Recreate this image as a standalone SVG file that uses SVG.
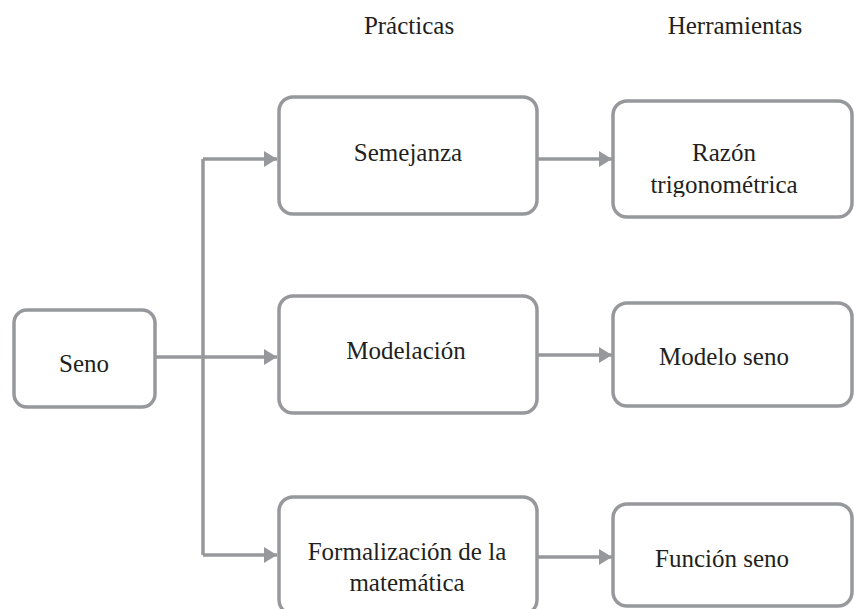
<svg xmlns="http://www.w3.org/2000/svg" width="854" height="609" viewBox="0 0 854 609">
<style>
.box{fill:#ffffff;stroke:#97989b;stroke-width:3.5}
.ln{fill:none;stroke:#97989b;stroke-width:3.5}
</style>
<defs>
<marker id="ah" markerUnits="userSpaceOnUse" markerWidth="14" markerHeight="16" refX="13" refY="8" orient="auto">
<path d="M0,0 L13,8 L0,16 Z" fill="#97989b"/>
</marker>
<clipPath id="clipR"><rect x="613" y="101" width="241" height="96"/></clipPath>
</defs>
<rect width="854" height="609" fill="#ffffff"/>
<g id="headers" font-family="Liberation Serif, serif" font-size="25" fill="#231f20" text-anchor="middle">
<text x="409" y="34">Prácticas</text>
<text x="735" y="34">Herramientas</text>
</g>
<g id="connectors">
<path class="ln" d="M203,159 V555"/>
<path class="ln" d="M155,357 H277" marker-end="url(#ah)"/>
<path class="ln" d="M203,159 H277" marker-end="url(#ah)"/>
<path class="ln" d="M203,555 H277" marker-end="url(#ah)"/>
<path class="ln" d="M537,159 H612" marker-end="url(#ah)"/>
<path class="ln" d="M537,355 H612" marker-end="url(#ah)"/>
<path class="ln" d="M537,557 H612" marker-end="url(#ah)"/>
</g>
<g id="seno" font-family="Liberation Serif, serif" font-size="25" fill="#231f20" text-anchor="middle">
<rect class="box" x="14" y="310" width="141" height="97" rx="13"/>
<text x="84" y="372">Seno</text>
</g>
<g id="semejanza" font-family="Liberation Serif, serif" font-size="25" fill="#231f20" text-anchor="middle">
<rect class="box" x="279" y="97" width="258" height="117" rx="14"/>
<text x="408" y="161">Semejanza</text>
</g>
<g id="razon" font-family="Liberation Serif, serif" font-size="25" fill="#231f20" text-anchor="middle">
<rect class="box" x="613" y="101" width="239" height="116" rx="14"/>
<g clip-path="url(#clipR)">
<text x="724" y="161">Razón</text>
<text x="724" y="193">trigonométrica</text>
</g>
</g>
<g id="modelacion" font-family="Liberation Serif, serif" font-size="25" fill="#231f20" text-anchor="middle">
<rect class="box" x="279" y="296" width="258" height="117" rx="14"/>
<text x="406" y="359">Modelación</text>
</g>
<g id="modelo-seno" font-family="Liberation Serif, serif" font-size="25" fill="#231f20" text-anchor="middle">
<rect class="box" x="613" y="303" width="239" height="103" rx="14"/>
<text x="724" y="365">Modelo seno</text>
</g>
<g id="formalizacion" font-family="Liberation Serif, serif" font-size="25" fill="#231f20" text-anchor="middle">
<rect class="box" x="279" y="497" width="258" height="117" rx="14"/>
<text x="407" y="560">Formalización de la</text>
<text x="407" y="591">matemática</text>
</g>
<g id="funcion-seno" font-family="Liberation Serif, serif" font-size="25" fill="#231f20" text-anchor="middle">
<rect class="box" x="613" y="504" width="239" height="102" rx="14"/>
<text x="722" y="567">Función seno</text>
</g>
</svg>
